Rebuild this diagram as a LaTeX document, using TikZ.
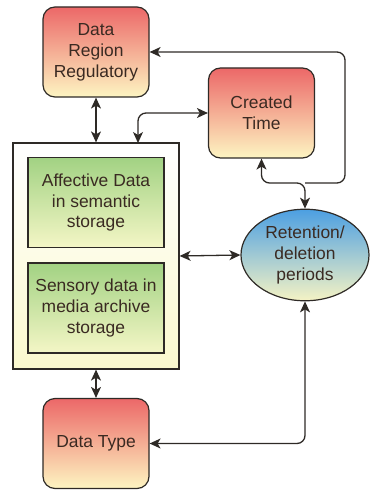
\documentclass[tikz,border=0pt]{standalone}
\usepackage{fontspec}
\setmainfont{Liberation Sans}
\usepackage{tikz}
\usetikzlibrary{arrows.meta,shapes.geometric,positioning}
\usepackage{xcolor}

\definecolor{redtop}{HTML}{EC6868}
\definecolor{redbot}{HTML}{FDF5C2}
\definecolor{greentop}{HTML}{A2D283}
\definecolor{greenbot}{HTML}{F4F6C6}
\definecolor{bluetop}{HTML}{4C9FE2}
\definecolor{bluebot}{HTML}{F5F3C4}
\definecolor{outerbot}{HTML}{FBF9CE}
\definecolor{rim}{HTML}{2E2A26}
\definecolor{ink}{HTML}{3A2A22}

\begin{document}
\begin{tikzpicture}[
  x=1bp, y=-1bp,
  redbox/.style={draw=rim, line width=1.2bp, rounded corners=12bp, top color=redtop, bottom color=redbot,
    minimum width=106bp, minimum height=90bp, align=center, text=ink, font=\fontsize{17.5}{21}\selectfont},
  greenbox/.style={draw=rim, line width=1.2bp, top color=greentop, bottom color=greenbot,
    minimum width=136bp, minimum height=90bp, align=center, text=ink, font=\fontsize{17.5}{21}\selectfont},
  outerbox/.style={draw=rim, line width=1.2bp, top color=white, bottom color=outerbot,
    minimum width=166bp, minimum height=226bp},
  oval/.style={ellipse, draw=rim, line width=1.2bp, top color=bluetop, bottom color=bluebot,
    minimum width=128bp, minimum height=88bp, align=center, text=ink, font=\fontsize{17.5}{21}\selectfont},
  link/.style={{Stealth[length=11bp,width=10bp,inset=3bp]}-{Stealth[length=11bp,width=10bp,inset=3bp]}, line width=1.3bp, draw=rim, rounded corners=8bp},
  halflink/.style={-{Stealth[length=11bp,width=10bp,inset=3bp]}, line width=1.3bp, draw=rim, rounded corners=8bp}
]
\useasboundingbox (0,0) rectangle (370,490);

% --- Nodos ---
\node[outerbox] (cont) at (96,256) {};
\node[greenbox] (aff) at (96,202.5) {Affective Data\\in semantic\\storage};
\node[greenbox] (sens) at (96,308) {Sensory data in\\media archive\\storage};

\node[redbox] (drr) at (96,52) {Data\\Region\\Regulatory};
\node[redbox] (ct)  at (261.5,113) {Created\\Time};
\node[redbox] (dt)  at (96,443.5) {Data Type};

\node[oval] (ret) at (305,255) {Retention/\\deletion\\periods};

% puntos de paso
\coordinate (ctin) at (138,143);
\coordinate (jn) at (305,183);
\coordinate (rt) at (345,52);

% --- Conexiones ---
\draw[link] (drr.south) -- (cont.north -| drr.south);
\draw[link] (ctin) |- (ct.west);
\draw[link] (ct.south) |- (jn) -- (ret.north);
\draw[halflink] (jn) -| (rt) -- (drr.east);
\draw[link] (cont.east) -- (ret.west);
\draw[link] (dt.east) -| (ret.south);
\draw[link] (cont.south) -- (dt.north);
\end{tikzpicture}
\end{document}
